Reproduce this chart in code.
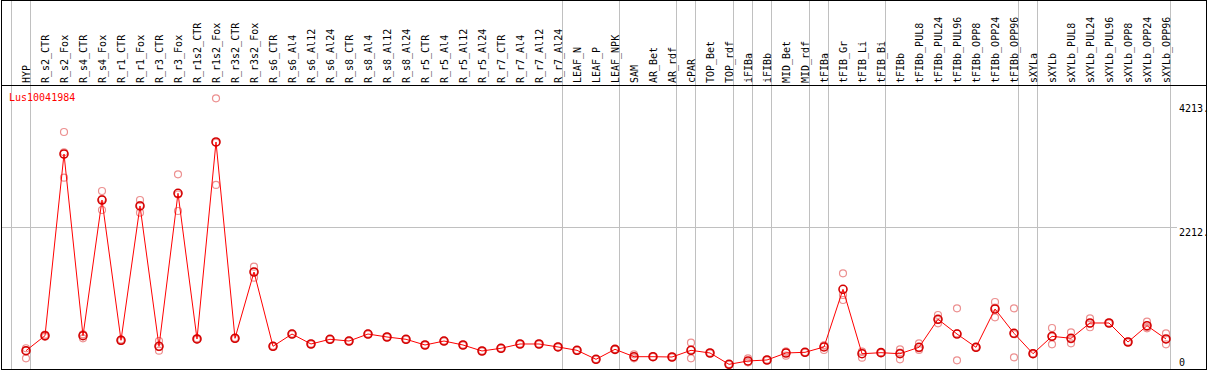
<!DOCTYPE html>
<html>
<head>
<meta charset="utf-8">
<script src="https://cdn.jsdelivr.net/npm/d3@7"></script>
<style>
  body { margin: 0; background: #fff; }
  text { font-family: 'DejaVu Sans Mono', monospace; font-size: 10px; }
</style>
</head>
<body>
<div id="chart"></div>
<script>
// Sample names (one column each)
const samples = [
  'HYP', 'R_s2_CTR', 'R_s2_Fox', 'R_s4_CTR', 'R_s4_Fox', 'R_r1_CTR', 'R_r1_Fox',
  'R_r3_CTR', 'R_r3_Fox', 'R_r1s2_CTR', 'R_r1s2_Fox', 'R_r3s2_CTR', 'R_r3s2_Fox',
  'R_s6_CTR', 'R_s6_Al4', 'R_s6_Al12', 'R_s6_Al24', 'R_s8_CTR', 'R_s8_Al4',
  'R_s8_Al12', 'R_s8_Al24', 'R_r5_CTR', 'R_r5_Al4', 'R_r5_Al12', 'R_r5_Al24',
  'R_r7_CTR', 'R_r7_Al4', 'R_r7_Al12', 'R_r7_Al24', 'LEAF_N', 'LEAF_P', 'LEAF_NPK',
  'SAM', 'AR_Bet', 'AR_rdf', 'cPAR', 'TOP_Bet', 'TOP_rdf', 'iFIBa', 'iFIBb',
  'MID_Bet', 'MID_rdf', 'tFIBa', 'tFIB_Gr', 'tFIB_Li', 'tFIB_Bi', 'tFIBb',
  'tFIBb_PUL8', 'tFIBb_PUL24', 'tFIBb_PUL96', 'tFIBb_OPP8', 'tFIBb_OPP24', 'tFIBb_OPP96',
  'sXYLa', 'sXYLb', 'sXYLb_PUL8', 'sXYLb_PUL24', 'sXYLb_PUL96', 'sXYLb_OPP8',
  'sXYLb_OPP24', 'sXYLb_OPP96',
];

// Index of the last sample in each group (grey separators drawn after them)
const groupEnds = [-1, 0, 28, 31, 34, 35, 37, 38, 39, 41, 42, 45, 52, 53, 60];

// Mean expression per sample
const means = [
  231, 473, 3406, 473, 2663, 399, 2567, 302, 2772, 420, 3600, 431, 1501,
  302, 500, 339, 415, 387, 500, 452, 415, 323, 387, 323, 226, 270, 339, 339, 291,
  237, 92, 253, 134, 134, 129, 237, 194, 11, 65, 81, 194, 205, 291, 1222, 182,
  199, 182, 286, 738, 500, 286, 904, 512, 182, 463, 431, 678, 678, 371, 634, 420,
];

// Replicate values per sample
const replicates = [
  [270, 231, 108], [490, 473, 455], [3761, 3434, 3023], [496, 490, 431],
  [2809, 2678, 2502], [410, 399, 388], [2663, 2580, 2458], [387, 290, 231],
  [3078, 2752, 2486], [430, 420, 410], [4305, 3589, 2906], [440, 431, 422],
  [1587, 1507, 1409], [310, 302, 295], [505, 500, 495], [345, 339, 333],
  [420, 415, 410], [392, 387, 382], [506, 500, 494], [458, 452, 446],
  [420, 415, 410], [328, 323, 318], [392, 387, 382], [328, 323, 318],
  [231, 226, 221], [275, 270, 265], [344, 339, 334], [344, 339, 334],
  [296, 291, 286], [242, 237, 232], [97, 92, 87], [258, 253, 248],
  [173, 121, 108], [139, 134, 129], [134, 129, 124], [360, 243, 108],
  [199, 194, 189], [16, 11, 6], [108, 44, 43], [86, 81, 76],
  [217, 215, 150], [210, 205, 200], [319, 312, 242], [1480, 1130, 1049],
  [215, 213, 118], [204, 199, 194], [253, 201, 92], [350, 266, 242],
  [807, 734, 673], [915, 509, 76], [291, 286, 281], [1017, 925, 770],
  [915, 497, 124], [187, 182, 177], [597, 458, 334], [528, 415, 350],
  [754, 671, 609], [683, 678, 673], [376, 371, 366], [699, 611, 592],
  [512, 414, 334],
];

// Y axis labels
const yTicks = [0, 2212, 4213];
const yTickLabels = ['0', '2212.', '4213.'];
const geneName = 'Lus10041984';

// Set up sizes
const width = 1209;
const height = 370;
const headerBottom = 85;
const plotBottom = 369;

const svg = d3
  .select('#chart')
  .append('svg')
  .attr('width', width)
  .attr('height', height);

// Scales
const x = d3
  .scaleLinear()
  .domain([0, samples.length - 1])
  .range([26, 1166]);

const y = d3
  .scaleLinear()
  .domain([0, 4213])
  .range([365, 104]);

// Grey vertical group separators
svg
  .selectAll('.sep')
  .data(groupEnds)
  .enter()
  .append('line')
  .attr('class', 'sep')
  .attr('x1', (d) => Math.floor(x(d) + 4.7) + 0.5)
  .attr('x2', (d) => Math.floor(x(d) + 4.7) + 0.5)
  .attr('y1', 0)
  .attr('y2', plotBottom)
  .attr('stroke', '#c0c0c0')
  .attr('shape-rendering', 'crispEdges');

// Grey middle line
svg
  .append('line')
  .attr('x1', 1)
  .attr('x2', 1177)
  .attr('y1', Math.floor(y(2212)) + 0.5)
  .attr('y2', Math.floor(y(2212)) + 0.5)
  .attr('stroke', '#c0c0c0')
  .attr('shape-rendering', 'crispEdges');

// Outer border and header line
svg
  .append('rect')
  .attr('x', 1.5)
  .attr('y', 0.5)
  .attr('width', 1205)
  .attr('height', plotBottom - 0.5)
  .attr('fill', 'none')
  .attr('stroke', '#000')
  .attr('shape-rendering', 'crispEdges');

svg
  .append('line')
  .attr('x1', 1)
  .attr('x2', 1207)
  .attr('y1', headerBottom + 0.5)
  .attr('y2', headerBottom + 0.5)
  .attr('stroke', '#000')
  .attr('shape-rendering', 'crispEdges');

// Rotated sample labels
svg
  .selectAll('.sample')
  .data(samples)
  .enter()
  .append('text')
  .attr('class', 'sample')
  .attr('transform', (d, i) => 'translate(' + (x(i) + 4) + ',' + (headerBottom - 2) + ') rotate(-90)')
  .attr('fill', '#000')
  .text((d) => d);

// Y labels on the right
svg
  .selectAll('.ylab')
  .data(yTicks)
  .enter()
  .append('text')
  .attr('class', 'ylab')
  .attr('x', 1179)
  .attr('y', (d) => (d === 0 ? 366 : y(d) + 8))
  .attr('fill', '#000')
  .text((d, i) => yTickLabels[i]);

// Gene name
svg
  .append('text')
  .attr('x', 9)
  .attr('y', 101)
  .attr('fill', '#ff0000')
  .text(geneName);

// Replicate circles
const reps = [];
replicates.forEach((r, i) => r.forEach((v) => reps.push({ i: i, v: v })));

svg
  .selectAll('.rep')
  .data(reps)
  .enter()
  .append('circle')
  .attr('class', 'rep')
  .attr('cx', (d) => x(d.i))
  .attr('cy', (d) => y(d.v))
  .attr('r', 3.5)
  .attr('fill', 'none')
  .attr('stroke', '#ec9090')
  .attr('stroke-width', 1.2);

// Mean line
const line = d3
  .line()
  .x((d, i) => x(i))
  .y((d) => y(d));

svg
  .append('path')
  .datum(means)
  .attr('d', line)
  .attr('fill', 'none')
  .attr('stroke', '#ff0000')
  .attr('stroke-width', 1);

// Mean circles
svg
  .selectAll('.mean')
  .data(means)
  .enter()
  .append('circle')
  .attr('class', 'mean')
  .attr('cx', (d, i) => x(i))
  .attr('cy', (d) => y(d))
  .attr('r', 4)
  .attr('fill', 'none')
  .attr('stroke', '#d40000')
  .attr('stroke-width', 1.6);
</script>
</body>
</html>
